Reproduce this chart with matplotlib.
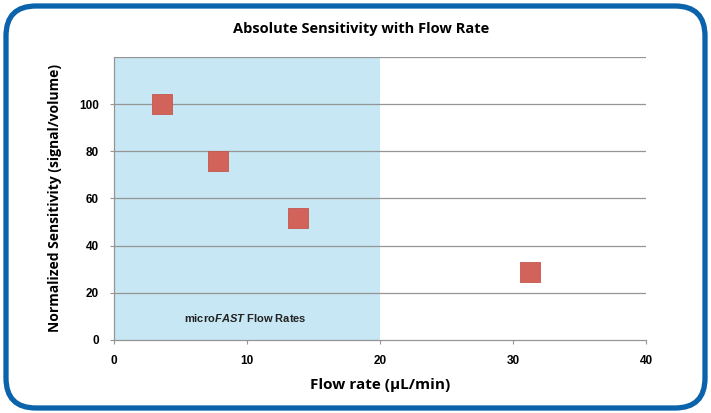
import matplotlib.pyplot as plt
import matplotlib.patches as mpatches
from matplotlib.transforms import IdentityTransform

plt.rcParams['font.family'] = ['Liberation Sans', 'DejaVu Sans']
plt.rcParams['mathtext.fontset'] = 'custom'
plt.rcParams['mathtext.rm'] = 'Liberation Sans:bold'
plt.rcParams['mathtext.it'] = 'Liberation Sans:italic:bold'

# data
flow_rate = [3.6, 7.8, 13.8, 31.3]
sensitivity = [100, 75.8, 51.7, 28.8]
x_ticks = [0, 10, 20, 30, 40]
y_ticks = [0, 20, 40, 60, 80, 100]
microfast_range = [0, 20]

fig = plt.figure(figsize=(7.11, 4.13), dpi=100)
ax = fig.add_axes([0.1603, 0.1768, 0.7483, 0.6852])

ax.axvspan(microfast_range[0], microfast_range[1], color='#c6e7f3', zorder=0, lw=0)
for y in [20, 40, 60, 80, 100, 120]:
    ax.axhline(y, color='#959595', lw=0.9, zorder=1)

ax.scatter(flow_rate, sensitivity, marker='s', s=190, color='#d2635b',
           edgecolor='#c4564f', linewidth=0.6, zorder=3)

ax.set_xlim(0, 40)
ax.set_ylim(0, 120)
ax.set_xticks(x_ticks)
ax.set_yticks(y_ticks)
ax.tick_params(axis='x', direction='out', length=3, color='#959595', pad=8,
               labelsize=8.5)
ax.tick_params(axis='y', direction='out', length=3, color='#959595', pad=8,
               labelsize=8.5)
for lab in ax.get_xticklabels() + ax.get_yticklabels():
    lab.set_fontweight('bold')

for s in ['top', 'right']:
    ax.spines[s].set_visible(False)
for s in ['left', 'bottom']:
    ax.spines[s].set_color('#959595')
    ax.spines[s].set_linewidth(0.9)

ax.text(9.9, 9.3, r'micro$\it{FAST}$ Flow Rates', ha='center', va='center',
        fontsize=8, fontweight='bold', color='#222222')

ax.set_xlabel('Flow rate (µL/min)', fontsize=11, fontweight='bold',
              family=['Open Sans', 'DejaVu Sans'], labelpad=8)
ax.set_ylabel('Normalized Sensitivity (signal/volume)', fontsize=10,
              fontweight='bold', family=['Open Sans', 'DejaVu Sans'], labelpad=12)
fig.text(0.508, 0.93, 'Absolute Sensitivity with Flow Rate', ha='center',
         va='center', fontsize=10.5, fontweight='bold',
         family=['Open Sans', 'DejaVu Sans'])

border = mpatches.FancyBboxPatch((6, 5), 699, 402,
                                 boxstyle='round,pad=0,rounding_size=30',
                                 transform=IdentityTransform(), fill=False,
                                 edgecolor='#0b63ab', linewidth=3.8)
fig.patches.append(border)

fig.savefig('out.png', dpi=100)
